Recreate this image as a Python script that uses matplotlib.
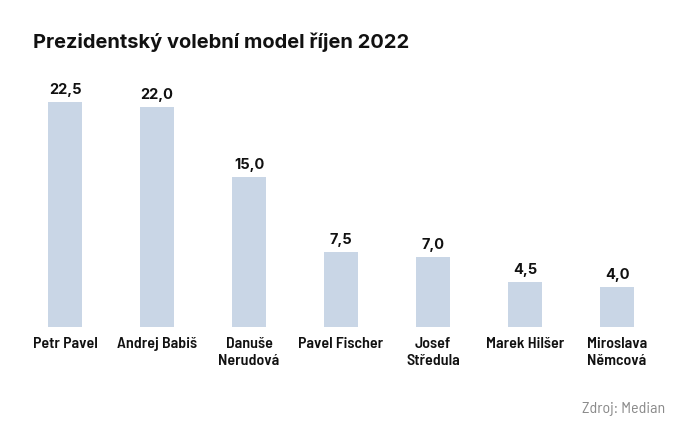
import matplotlib.pyplot as plt
from matplotlib import font_manager

# Data
candidates = ['Petr Pavel', 'Andrej Babiš', 'Danuše\nNerudová', 'Pavel Fischer',
              'Josef\nStředula', 'Marek Hilšer', 'Miroslava\nNěmcová']
values = [22.5, 22.0, 15.0, 7.5, 7.0, 4.5, 4.0]

names = {f.name for f in font_manager.fontManager.ttflist}
cond = 'Barlow Semi Condensed' if 'Barlow Semi Condensed' in names else 'DejaVu Sans'

fig = plt.figure(figsize=(6.82, 4.42), dpi=100)
ax = fig.add_axes([19 / 682, 1 - 327 / 442, 644 / 682, 250 / 442])

x = range(len(values))
ax.bar(x, values, width=0.38, color='#c9d6e6')
ax.set_xlim(-0.5, 6.5)
ax.set_ylim(0, 25)

for i, v in enumerate(values):
    ax.text(i, v + 0.5, f'{v:.1f}'.replace('.', ','), ha='center', va='bottom',
            fontsize=10.5, fontweight='bold', family='Inter', color='#111111')

ax.set_xticks(list(x))
ax.set_xticklabels(candidates, fontsize=11.5, fontweight='semibold', family=cond,
                   color='#111111', linespacing=1.3, va='top')
ax.tick_params(axis='x', length=0, pad=7)
ax.set_yticks([])
for s in ax.spines.values():
    s.set_visible(False)

fig.text(33 / 682, 1 - 42 / 442, 'Prezidentský volební model říjen 2022',
         fontsize=14.45, fontweight='bold', family='Inter', va='center', color='#111111')
fig.text(665 / 682, 1 - 409 / 442, 'Zdroj: Median', fontsize=11.5, family=cond,
         ha='right', va='center', color='#8a8a8a')

fig.savefig('out.png', dpi=100)
